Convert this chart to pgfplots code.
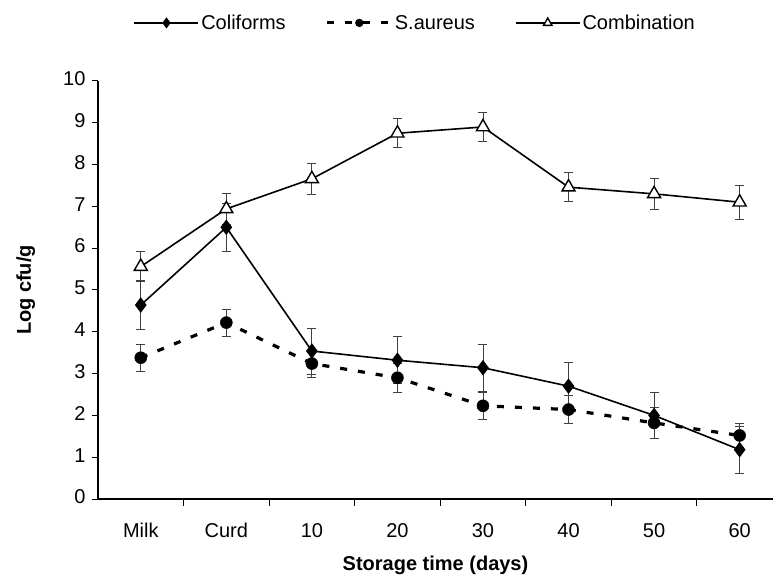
\documentclass[border=0pt]{standalone}
\usepackage{pgfplots}
\pgfplotsset{compat=1.18}
\usepackage{fontspec}
\setmainfont{Liberation Sans}
\newcommand{\chartfont}{\fontsize{20bp}{24bp}\selectfont}

\begin{document}
\begin{tikzpicture}
\useasboundingbox (-98bp,-78bp) rectangle (675bp,499bp);
\begin{axis}[
  at={(0,0)}, anchor=south west,
  scale only axis, width=675bp, height=418bp,
  xmin=-0.5, xmax=7.39, ymin=0, ymax=10,
  axis lines*=left,
  axis line style={line width=1.6bp},
  xtick={0,...,7},
  xticklabels={Milk,Curd,10,20,30,40,50,60},
  minor xtick={0.5,1.5,...,6.5},
  ytick={0,...,10},
  tick align=outside,
  major tick length=6bp, minor tick length=7bp,
  major x tick style={draw=none},
  tick style={line width=1bp, black},
  tick label style={font=\chartfont},
  /pgf/number format/assume math mode=true,
  typeset ticklabels with strut,
  xticklabel style={yshift=-12bp},
  yticklabel style={xshift=-3bp},
  xlabel={Storage time (days)},
  ylabel={Log cfu/g},
  every axis x label/.style={at={(axis description cs:0.5,-0.158)}, anchor=center,
    font=\chartfont\bfseries},
  every axis y label/.style={at={(axis description cs:-0.107,0.5)}, anchor=center,
    rotate=90, font=\chartfont\bfseries},
  legend columns=3,
  legend style={at={(0.47,1.139)}, anchor=center, draw=none, fill=none,
    font=\chartfont, /tikz/every even column/.append style={column sep=38bp}},
  legend image code/.code={\draw[mark repeat=2, mark phase=2, #1]
    plot coordinates {(0bp,0bp) (32bp,0bp) (64bp,0bp)};},
  legend image post style={/tikz/every mark/.append style={scale=0.65}},
  error bars/y dir=both, error bars/y explicit,
  error bars/error mark options={rotate=90, mark size=4.5bp, line width=0.8bp, black!75},
  error bars/error bar style={line width=0.8bp, black!75, solid},
]
% Coliforms
\addplot[black, line width=1.6bp, mark=diamond*, mark size=6.5bp,
  mark options={solid, fill=black}] coordinates {
  (0,4.64) +- (0,0.58) (1,6.50) +- (0,0.58) (2,3.54) +- (0,0.55) (3,3.32) +- (0,0.56)
  (4,3.14) +- (0,0.56) (5,2.70) +- (0,0.56) (6,2.00) +- (0,0.55) (7,1.18) +- (0,0.56)
};
\addlegendentry{Coliforms}
% S. aureus
\addplot[black, line width=3.2bp, dash pattern=on 7bp off 11bp, mark=*, mark size=6bp,
  mark options={solid, fill=black, line width=0.5bp}] coordinates {
  (0,3.38) +- (0,0.32) (1,4.22) +- (0,0.32) (2,3.24) +- (0,0.32) (3,2.90) +- (0,0.34)
  (4,2.23) +- (0,0.33) (5,2.14) +- (0,0.33) (6,1.82) +- (0,0.38) (7,1.52) +- (0,0.28)
};
\addlegendentry{S.aureus}
% Combination
\addplot[black, line width=1.6bp, mark=triangle*, mark size=7.5bp,
  mark options={solid, fill=white, line width=1.4bp}] coordinates {
  (0,5.56) +- (0,0.36) (1,6.94) +- (0,0.38) (2,7.66) +- (0,0.37) (3,8.75) +- (0,0.35)
  (4,8.90) +- (0,0.34) (5,7.46) +- (0,0.35) (6,7.30) +- (0,0.37) (7,7.10) +- (0,0.40)
};
\addlegendentry{Combination}
\end{axis}
\end{tikzpicture}
\end{document}
